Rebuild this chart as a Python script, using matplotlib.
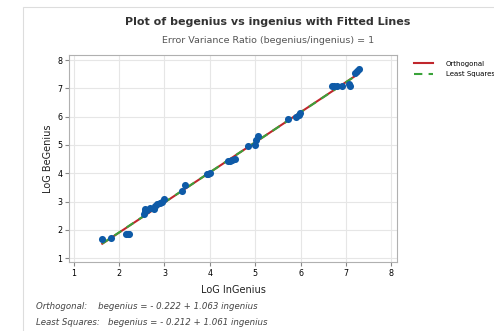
import matplotlib.pyplot as plt
from matplotlib.patches import Rectangle

# data
ingenius = [1.63, 1.83, 2.16, 2.19, 2.22, 2.54, 2.57, 2.58, 2.62, 2.69, 2.76, 2.80,
            2.83, 2.90, 2.95, 2.98, 3.38, 3.46, 3.93, 3.97, 4.01, 4.40, 4.45, 4.50,
            4.55, 4.85, 5.00, 5.02, 5.07, 5.73, 5.91, 5.96, 5.99, 6.69, 6.74, 6.80,
            6.91, 7.06, 7.08, 7.20, 7.25, 7.28]
begenius = [1.68, 1.72, 1.85, 1.85, 1.85, 2.57, 2.65, 2.75, 2.70, 2.77, 2.75, 2.86,
            2.90, 2.96, 3.00, 3.08, 3.38, 3.57, 3.96, 3.98, 4.00, 4.42, 4.45, 4.48,
            4.50, 4.98, 5.00, 5.18, 5.30, 5.90, 6.00, 6.06, 6.14, 7.08, 7.08, 7.08,
            7.08, 7.14, 7.08, 7.55, 7.62, 7.67]

orth_coef = (-0.222, 1.063)
ls_coef = (-0.212, 1.061)

fig = plt.figure(figsize=(4.94, 3.31), dpi=100)
fig.patches.append(Rectangle((23 / 494, -0.1), 1.2, 1.0 - 7 / 331 + 0.1,
                             transform=fig.transFigure, fill=False,
                             edgecolor='#dddddd', linewidth=0.8))

ax = fig.add_axes([0.140, 0.208, 0.664, 0.626])

xs = [min(ingenius), max(ingenius)]
ax.plot(xs, [orth_coef[0] + orth_coef[1] * x for x in xs], color='#c0272d', lw=1.5,
        label='Orthogonal', zorder=2)
ax.plot(xs, [ls_coef[0] + ls_coef[1] * x for x in xs], color='#3aa33a', lw=1.5,
        ls=(0, (4, 3)), label='Least Squares', zorder=3)
ax.scatter(ingenius, begenius, s=26, color='#0e5aa7', zorder=4, linewidths=0)

ax.set_xlim(0.9, 8.13)
ax.set_ylim(0.86, 8.18)
ax.set_xticks(range(1, 9))
ax.set_yticks(range(1, 9))
ax.grid(True, color='#e6e6e6', lw=0.8)
ax.set_axisbelow(True)
for s in ax.spines.values():
    s.set_color('#b0b0b0')
ax.tick_params(labelsize=5.8, length=3, color='#888888', pad=2)

ax.set_xlabel('LoG InGenius', fontsize=7, color='#222222', labelpad=5)
ax.set_ylabel('LoG BeGenius', fontsize=7, color='#222222', labelpad=3)

fig.text(0.542, 0.933, 'Plot of begenius vs ingenius with Fitted Lines', ha='center',
         va='center', fontsize=8, fontweight='bold', color='#333333')
fig.text(0.542, 0.878, 'Error Variance Ratio (begenius/ingenius) = 1', ha='center',
         va='center', fontsize=6.8, color='#555555')

leg = fig.legend(loc='upper left', bbox_to_anchor=(0.825, 0.835), frameon=False,
                 fontsize=5, handlelength=2.8, handletextpad=1.8, labelspacing=0.6)

fig.text(0.073, 0.075, 'Orthogonal:    begenius = - 0.222 + 1.063 ingenius',
         fontsize=6.2, style='italic', color='#444444', va='center')
fig.text(0.073, 0.027, 'Least Squares:   begenius = - 0.212 + 1.061 ingenius',
         fontsize=6.2, style='italic', color='#444444', va='center')

fig.savefig('out.png', dpi=100)
